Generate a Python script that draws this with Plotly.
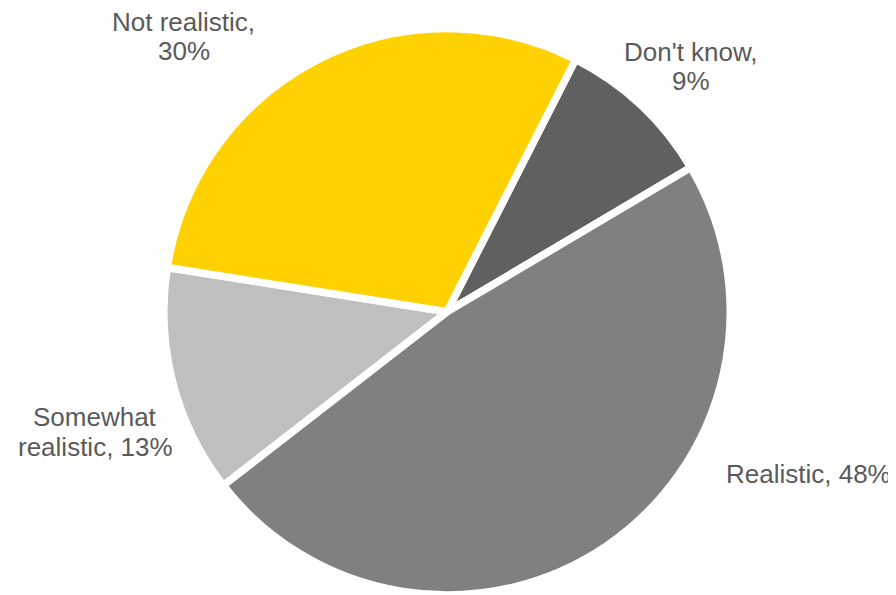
import plotly.graph_objects as go

labels = ["Don't know", "Realistic", "Somewhat realistic", "Not realistic"]
values = [9, 48, 13, 30]
colors = ["#606060", "#808080", "#BFBFBF", "#FFD100"]
# label lines as displayed next to each slice
label_lines = [["Don't know,", "9%"], ["Realistic, 48%"], ["Somewhat", "realistic, 13%"], ["Not realistic,", "30%"]]
# label block centres in page pixels (x, y of first line)
label_px = [(690.5, 51.5), (808.5, 473.5), (95.0, 417.0), (183.5, 21.7)]
LINE_GAP = 29.5

W, H = 888, 587   # page body has an 8px margin
OFF = 8

fig = go.Figure(go.Pie(
    labels=labels,
    values=values,
    marker=dict(colors=colors, line=dict(color="white", width=7.5)),
    sort=False,
    direction="clockwise",
    rotation=27,
    textinfo="none",
    hoverinfo="label+percent",
    domain=dict(x=[0.0944, 0.8944], y=[0.0, 0.965]),
    showlegend=False,
))

for lines, (px, py) in zip(label_lines, label_px):
    for i, line in enumerate(lines):
        yy = py + i * LINE_GAP
        fig.add_annotation(text=line, x=(px - OFF) / W, y=1 - (yy - OFF) / H,
                           xref="paper", yref="paper",
                           showarrow=False, xanchor="center", yanchor="middle",
                           align="center",
                           font=dict(family="Liberation Sans, Arial, sans-serif", size=26, color="#5A5A5A"))

fig.update_layout(
    width=W, height=H,
    margin=dict(l=0, r=0, t=0, b=0),
    paper_bgcolor="white", plot_bgcolor="white",
)

fig.write_html("out.html")
